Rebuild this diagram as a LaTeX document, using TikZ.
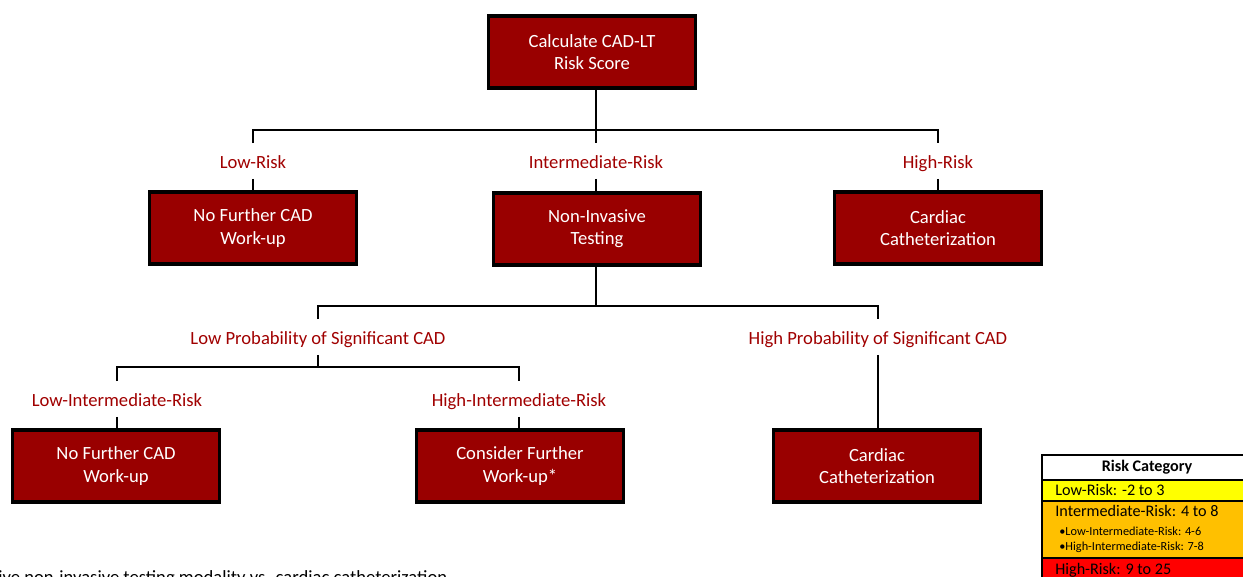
\documentclass[tikz,border=0pt]{standalone}
\usepackage{fontspec}
\setmainfont{Carlito}
\usetikzlibrary{positioning}
\definecolor{boxred}{HTML}{990000}
\definecolor{labred}{HTML}{A00000}
\definecolor{lowyel}{HTML}{FFFF00}
\definecolor{midorg}{HTML}{FFC000}
\definecolor{highred}{HTML}{FF0000}
\tikzset{
  riskbox/.style={draw=black, line width=2.2pt, fill=boxred, text=white, align=center,
                  minimum width=4.14cm, minimum height=1.44cm, inner sep=2pt,
                  font=\fontsize{10.6}{12.6}\selectfont},
  branch/.style={text=labred, inner sep=0pt, minimum height=0.7cm,
                 text height=9.5pt, text depth=1.5pt,
                 font=\fontsize{10.6}{12.6}\selectfont},
  link/.style={line width=1.2pt, draw=black},
  legcell/.style={draw=black, line width=1.1pt},
  legtext/.style={inner sep=0pt, anchor=west, font=\fontsize{9.2}{11}\selectfont},
  legsub/.style={legtext, font=\fontsize{7}{8.4}\selectfont},
}
\begin{document}
\begin{tikzpicture}[x=0.02cm, y=-0.02cm]
\useasboundingbox (0,0) rectangle (1243,577);
\clip (0,0) rectangle (1243,577);

% --- score ---
\node[riskbox] (calc) at (592,52) {Calculate CAD-LT\\Risk Score};

% --- first split ---
\node[branch] (lr) at (253,161) {Low-Risk};
\node[branch] (ir) at (596,161) {Intermediate-Risk};
\node[branch] (hr) at (938,161) {High-Risk};

\node[riskbox] (lowbox) at (253,228) {No Further CAD\\Work-up};
\node[riskbox] (nitbox) at (597,229) {Non-Invasive\\Testing};
\node[riskbox] (cathA)  at (938,228) {Cardiac\\Catheterization};

\coordinate (j1) at (596,130);
\draw[link] (calc.south -| j1) -- (j1);
\draw[link] (lr.north) |- (j1) -| (hr.north);
\draw[link] (j1) -- (ir.north);
\draw[link] (lr.south) -- (lowbox.north);
\draw[link] (ir.south) -- (ir.south |- nitbox.north);
\draw[link] (hr.south) -- (cathA.north);

% --- after testing ---
\node[branch] (lp) at (318,337) {Low Probability of Significant CAD};
\node[branch] (hp) at (878,337) {High Probability of Significant CAD};
\node[branch] (lir) at (117,399) {Low-Intermediate-Risk};
\node[branch] (hir) at (519,399) {High-Intermediate-Risk};

\node[riskbox] (lowint)  at (116,466) {No Further CAD\\Work-up};
\node[riskbox] (highint) at (520,466) {Consider Further\\Work-up*};
\node[riskbox] (cathB)   at (877,466) {Cardiac\\Catheterization};

\coordinate (j2) at (596,306);
\coordinate (j3) at (318,367);
\draw[link] (nitbox.south -| j2) -- (j2);
\draw[link] (lp.north) |- (j2) -| (hp.north);
\draw[link] (hp.south) -- (hp.south |- cathB.north);
\draw[link] (lp.south) -- (j3);
\draw[link] (lir.north) |- (j3) -| (hir.north);
\draw[link] (lir.south) -- (lir.south |- lowint.north);
\draw[link] (hir.south) -- (hir.south |- highint.north);

% --- legend ---
\draw[legcell, fill=white]   (1042,455) rectangle (1300,480);
\draw[legcell, fill=lowyel]  (1042,480) rectangle (1300,501);
\draw[legcell, fill=midorg]  (1042,501) rectangle (1300,558);
\draw[legcell, fill=highred] (1042,558) rectangle (1300,620);
\node[legtext, anchor=center, font=\fontsize{9.2}{11}\selectfont\bfseries] (legtitle) at (1147,467) {Risk Category};
\node[legtext] (leglow)  at (1055,490) {Low-Risk: -2 to 3};
\node[legtext] (legmid)  at (1055,511) {Intermediate-Risk: 4 to 8};
\node[legsub]  (legmidA) at (1059,531) {•Low-Intermediate-Risk: 4-6};
\node[legsub]  (legmidB) at (1059,547) {•High-Intermediate-Risk: 7-8};
\node[legtext] (leghigh) at (1055,570) {High-Risk: 9 to 25};

% --- footnote (cut at the edge) ---
\node[inner sep=0pt, anchor=base west, font=\fontsize{10.6}{12.6}\selectfont] (foot) at (-2,583)
  {ive non-invasive testing modality vs. cardiac catheterization};
\end{tikzpicture}
\end{document}
